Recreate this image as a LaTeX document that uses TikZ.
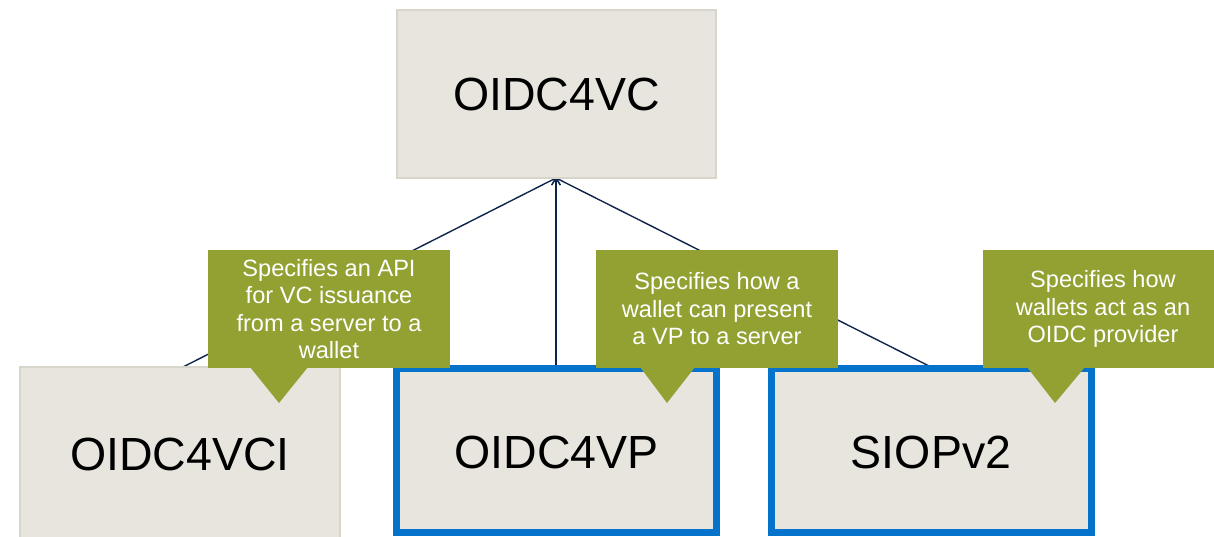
\documentclass[tikz,border=0pt]{standalone}
\usepackage{fontspec}
\setmainfont{Liberation Sans}
\usetikzlibrary{arrows.meta}
\definecolor{boxfill}{RGB}{232,229,223}
\definecolor{boxline}{RGB}{216,213,203}
\definecolor{specblue}{RGB}{5,114,204}
\definecolor{noteolive}{RGB}{147,160,50}
\definecolor{linknavy}{RGB}{14,38,76}
\tikzset{
  spec/.style={draw=boxline, line width=1.2pt, fill=boxfill, inner sep=0pt,
    font=\fontsize{46.5}{52}\selectfont, text=black},
  focus/.style={draw=specblue, line width=7pt, fill=boxfill},
  note/.style={fill=noteolive, draw=none, inner sep=0pt, text=white, align=center,
    font=\fontsize{23.6}{27.5}\selectfont},
  link/.style={draw=linknavy, line width=1.4pt, -{Straight Barb[length=6pt,width=9pt,line width=1.2pt]}},
}
\begin{document}
\begin{tikzpicture}[x=1pt,y=-1pt]
\useasboundingbox (0,0) rectangle (1214,536);
\clip (0,0) rectangle (1214,536);
\fill[white] (0,0) rectangle (1214,536);

% anchor points of the connectors
\coordinate (hub) at (556,178);
\coordinate (vciTop) at (181,368);
\coordinate (vpTop) at (556,368);
\coordinate (siopTop) at (933,368);

% connectors (drawn first, so boxes and notes lie on top)
\draw[link] (vciTop) -- (hub);
\draw[link] (vpTop) -- (hub);
\draw[link] (siopTop) -- (hub);

% parent specification
\node[spec, minimum width=319pt, minimum height=168pt] (vc) at (556.5,94) {OIDC4VC};

% child specifications
\node[spec, minimum width=320pt, minimum height=175pt] (vci) at (180,454.5) {OIDC4VCI};
\draw[focus] (396.5,368.5) rectangle (716.5,532.5);
\node[spec, draw=none, fill=none] (vp) at (556.5,452) {OIDC4VP};
\draw[focus] (771.5,368.5) rectangle (1091.5,532.5);
\node[spec, draw=none, fill=none] (siop) at (931,452) {SIOPv2};

% explanatory notes with pointers
\node[note, minimum width=242pt, minimum height=118pt] (n1) at (329,309)
  {Specifies an API\\for VC issuance\\from a server to a\\wallet};
\fill[noteolive] (250,367) -- (308,367) -- (279,403) -- cycle;

\node[note, minimum width=242pt, minimum height=118pt] (n2) at (717,309)
  {Specifies how a\\wallet can present\\a VP to a server};
\fill[noteolive] (640,367) -- (695,367) -- (667,403) -- cycle;

\node[note, minimum width=240pt, minimum height=118pt] (n3) at (1103,309)
  {Specifies how\\wallets act as an\\OIDC provider};
\fill[noteolive] (1027,367) -- (1085,367) -- (1055,403) -- cycle;
\end{tikzpicture}
\end{document}
